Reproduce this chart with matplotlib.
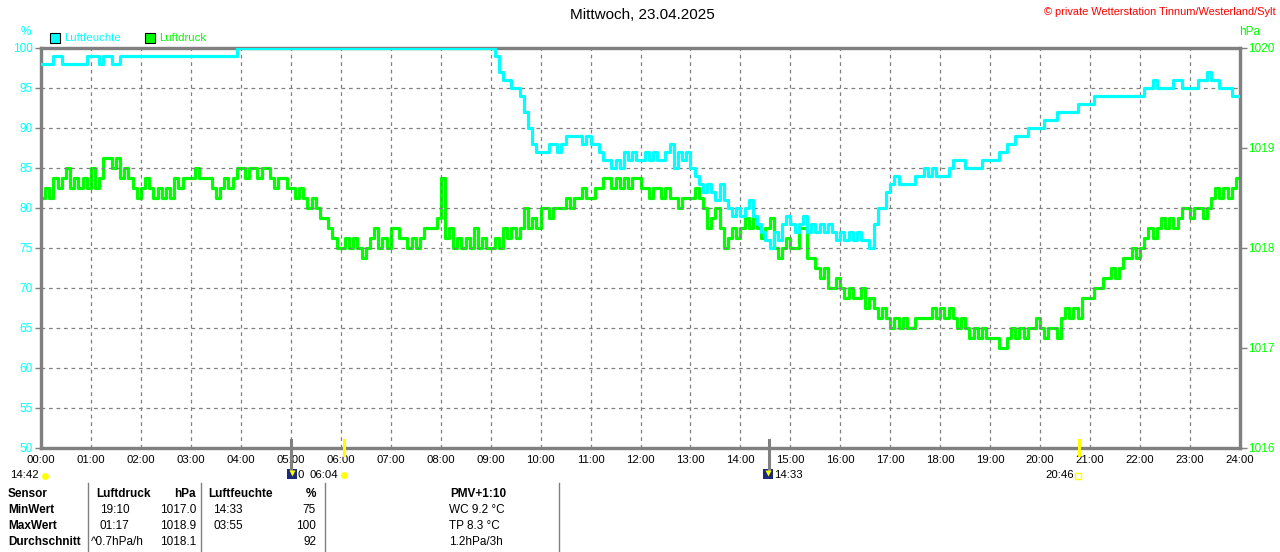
import numpy as np
import matplotlib
matplotlib.use("Agg")
import matplotlib.pyplot as plt

plt.rcParams['font.family'] = ['Liberation Sans', 'DejaVu Sans']

W, H = 1280, 552

# 5-minute samples, one row per hour (00:00 ... 23:55), last value = 24:00
luftfeuchte = [
    98, 98, 98, 99, 99, 98, 98, 98, 98, 98, 98, 99,
    99, 99, 98, 99, 99, 98, 98, 99, 99, 99, 99, 99,
    99, 99, 99, 99, 99, 99, 99, 99, 99, 99, 99, 99,
    99, 99, 99, 99, 99, 99, 99, 99, 99, 99, 99, 100,
    100, 100, 100, 100, 100, 100, 100, 100, 100, 100, 100, 100,
    100, 100, 100, 100, 100, 100, 100, 100, 100, 100, 100, 100,
    100, 100, 100, 100, 100, 100, 100, 100, 100, 100, 100, 100,
    100, 100, 100, 100, 100, 100, 100, 100, 100, 100, 100, 100,
    100, 100, 100, 100, 100, 100, 100, 100, 100, 100, 100, 100,
    100, 99, 97, 96, 96, 95, 95, 94, 92, 90, 88, 87,
    87, 87, 88, 88, 87, 88, 89, 89, 89, 89, 88, 89,
    88, 88, 87, 86, 86, 85, 86, 85, 87, 86, 87, 86,
    86, 87, 86, 87, 86, 86, 87, 88, 85, 87, 86, 87,
    85, 84, 83, 82, 83, 82, 81, 83, 81, 80, 79, 80,
    79, 80, 81, 79, 78, 77, 76, 75, 77, 76, 78, 79,
    78, 77, 78, 79, 77, 78, 77, 78, 77, 78, 77, 76,
    77, 76, 77, 76, 77, 76, 76, 75, 78, 80, 80, 82,
    83, 84, 83, 83, 83, 83, 84, 84, 85, 84, 85, 84,
    84, 84, 85, 86, 86, 86, 85, 85, 85, 85, 86, 86,
    86, 86, 87, 87, 88, 88, 89, 89, 89, 90, 90, 90,
    90, 91, 91, 91, 92, 92, 92, 92, 92, 93, 93, 93,
    93, 94, 94, 94, 94, 94, 94, 94, 94, 94, 94, 94,
    94, 95, 95, 96, 95, 95, 95, 95, 96, 96, 95, 95,
    95, 95, 96, 96, 97, 96, 96, 95, 95, 95, 94, 94,
    94,
]

luftdruck = [
    1018.5, 1018.6, 1018.5, 1018.7, 1018.6, 1018.7, 1018.8, 1018.6, 1018.7, 1018.6, 1018.7, 1018.6,
    1018.8, 1018.6, 1018.7, 1018.9, 1018.9, 1018.8, 1018.9, 1018.7, 1018.8, 1018.7, 1018.6, 1018.5,
    1018.6, 1018.7, 1018.6, 1018.5, 1018.6, 1018.5, 1018.6, 1018.5, 1018.7, 1018.6, 1018.7, 1018.7,
    1018.7, 1018.8, 1018.7, 1018.7, 1018.7, 1018.6, 1018.5, 1018.6, 1018.7, 1018.6, 1018.7, 1018.8,
    1018.8, 1018.7, 1018.8, 1018.8, 1018.7, 1018.8, 1018.8, 1018.7, 1018.6, 1018.7, 1018.7, 1018.6,
    1018.6, 1018.5, 1018.6, 1018.5, 1018.4, 1018.5, 1018.4, 1018.3, 1018.3, 1018.2, 1018.1, 1018.0,
    1018.0, 1018.1, 1018.0, 1018.1, 1018.0, 1017.9, 1018.0, 1018.1, 1018.2, 1018.0, 1018.1, 1018.0,
    1018.2, 1018.2, 1018.1, 1018.1, 1018.0, 1018.1, 1018.0, 1018.1, 1018.2, 1018.2, 1018.2, 1018.3,
    1018.7, 1018.1, 1018.2, 1018.0, 1018.1, 1018.0, 1018.1, 1018.0, 1018.2, 1018.0, 1018.1, 1018.0,
    1018.0, 1018.1, 1018.0, 1018.2, 1018.1, 1018.2, 1018.1, 1018.2, 1018.4, 1018.2, 1018.3, 1018.2,
    1018.4, 1018.4, 1018.3, 1018.4, 1018.4, 1018.4, 1018.5, 1018.4, 1018.5, 1018.5, 1018.6, 1018.5,
    1018.5, 1018.6, 1018.6, 1018.7, 1018.7, 1018.6, 1018.7, 1018.6, 1018.7, 1018.6, 1018.7, 1018.7,
    1018.6, 1018.6, 1018.5, 1018.6, 1018.6, 1018.5, 1018.6, 1018.5, 1018.5, 1018.4, 1018.5, 1018.5,
    1018.5, 1018.6, 1018.5, 1018.4, 1018.2, 1018.3, 1018.4, 1018.2, 1018.0, 1018.1, 1018.2, 1018.1,
    1018.2, 1018.3, 1018.2, 1018.3, 1018.2, 1018.1, 1018.2, 1018.3, 1018.0, 1017.9, 1018.0, 1018.1,
    1018.0, 1018.0, 1018.2, 1018.2, 1017.9, 1017.9, 1017.8, 1017.7, 1017.8, 1017.6, 1017.6, 1017.7,
    1017.6, 1017.5, 1017.6, 1017.5, 1017.5, 1017.6, 1017.4, 1017.5, 1017.4, 1017.3, 1017.4, 1017.3,
    1017.2, 1017.3, 1017.2, 1017.3, 1017.2, 1017.2, 1017.3, 1017.3, 1017.3, 1017.3, 1017.4, 1017.3,
    1017.4, 1017.3, 1017.4, 1017.3, 1017.2, 1017.3, 1017.2, 1017.1, 1017.2, 1017.1, 1017.2, 1017.1,
    1017.1, 1017.1, 1017.0, 1017.0, 1017.1, 1017.2, 1017.1, 1017.2, 1017.1, 1017.2, 1017.2, 1017.3,
    1017.2, 1017.1, 1017.2, 1017.2, 1017.1, 1017.3, 1017.4, 1017.3, 1017.4, 1017.3, 1017.5, 1017.5,
    1017.5, 1017.6, 1017.6, 1017.7, 1017.7, 1017.8, 1017.7, 1017.8, 1017.9, 1017.9, 1018.0, 1017.9,
    1018.0, 1018.1, 1018.2, 1018.1, 1018.2, 1018.3, 1018.2, 1018.3, 1018.2, 1018.3, 1018.4, 1018.4,
    1018.3, 1018.4, 1018.4, 1018.3, 1018.4, 1018.5, 1018.6, 1018.5, 1018.6, 1018.5, 1018.6, 1018.7,
    1018.7,
]

hours = np.arange(len(luftfeuchte)) / 12.0
hour_labels = ['%02d:00' % h for h in range(25)]

# astro events below the time axis (hours)
mond_auf = 5.0
sonne_auf = 6 + 4 / 60
mond_unter = 14 + 33 / 60
sonne_unter = 20 + 46 / 60

table_rows = [
    ['Sensor', 'Luftdruck', 'hPa', 'Luftfeuchte', '%', 'PMV+1:10'],
    ['MinWert', '19:10', '1017.0', '14:33', '75', 'WC 9.2 °C'],
    ['MaxWert', '01:17', '1018.9', '03:55', '100', 'TP 8.3 °C'],
    ['Durchschnitt', '^0.7hPa/h', '1018.1', '', '92', '1.2hPa/3h'],
]

CYAN = '#00ffff'
GREEN = '#00ff00'
GRAY = '#808080'
FS = 8.5


def fx(px):
    return px / W


def fy(py):
    return 1 - py / H


fig = plt.figure(figsize=(W / 100, H / 100), dpi=100)
ax = fig.add_axes([fx(41), fy(448), fx(1240) - fx(41), fy(48) - fy(448)])
ax2 = ax.twinx()

ax.set_xlim(0, 24)
ax.set_ylim(50, 100)
ax2.set_ylim(1016, 1020)

# grid
for h in range(1, 24):
    ax.axvline(h, color=GRAY, lw=0.9, ls=(0, (3, 3)), zorder=1)
for v in range(55, 100, 5):
    ax.axhline(v, color=GRAY, lw=0.9, ls=(0, (3, 3)), zorder=1)

ax2.step(hours, luftdruck, where='post', color=GREEN, lw=2.3, zorder=3)
ax.step(hours, luftfeuchte, where='post', color=CYAN, lw=2.3, zorder=4)
ax.set_zorder(ax2.get_zorder() + 1)
ax.patch.set_visible(False)

for a in (ax, ax2):
    for s in a.spines.values():
        s.set_color(GRAY)
        s.set_linewidth(2.3)

ax.set_xticks(range(25))
ax.set_xticklabels(hour_labels, fontsize=8.2, color='black')
ax.tick_params(axis='x', length=0, pad=5)
ax.set_yticks(range(50, 101, 5))
ax.tick_params(axis='y', colors=GRAY, labelcolor=CYAN, labelsize=FS, length=4, width=1, pad=2)
ax2.set_yticks(range(1016, 1021))
ax2.tick_params(axis='y', colors=GRAY, labelcolor=GREEN, labelsize=FS, length=5, width=1, pad=1)

# title and headers
fig.text(fx(642), fy(15), 'Mittwoch, 23.04.2025', ha='center', va='center', fontsize=11)
fig.text(fx(1276), fy(12), '© private Wetterstation Tinnum/Westerland/Sylt', ha='right', va='center',
         fontsize=7.9, color='red')
fig.text(fx(26), fy(32), '%', ha='center', va='center', fontsize=FS, color=CYAN)
fig.text(fx(1250), fy(32), 'hPa', ha='center', va='center', fontsize=FS, color=GREEN)

# legend
for x0, col, lab in [(50, CYAN, 'Luftfeuchte'), (145, GREEN, 'Luftdruck')]:
    fig.patches.append(plt.Rectangle((fx(x0), fy(43)), fx(10), fy(33) - fy(43), transform=fig.transFigure,
                                     facecolor=col, edgecolor='black', lw=0.8))
    fig.text(fx(x0 + 14), fy(38), lab, ha='left', va='center', fontsize=8.2, color=col)

# astro marks
for h, col, y1 in [(mond_auf, GRAY, 470), (mond_unter, GRAY, 470), (sonne_auf, 'yellow', 455), (sonne_unter, 'yellow', 455)]:
    xp = 41 + 50 * h
    fig.add_artist(plt.Line2D([fx(xp), fx(xp)], [fy(440), fy(y1)], color=col, lw=2.2))


def moon_icon(x0):
    fig.patches.append(plt.Rectangle((fx(x0), fy(479)), fx(10), fy(469) - fy(479), transform=fig.transFigure,
                                     facecolor='#1c2a7a', edgecolor='none'))
    fig.add_artist(plt.Line2D([fx(x0 + 5)], [fy(473)], marker='v', color='yellow', ms=4, mec='none'))


EV_Y = 475
moon_icon(287)
moon_icon(763)
fig.text(fx(10), fy(EV_Y), '14:42', ha='left', va='center', fontsize=8.2)
fig.add_artist(plt.Line2D([fx(45)], [fy(EV_Y + 1)], marker='o', color='yellow', ms=5, mec='none'))
fig.text(fx(298), fy(EV_Y), '0', ha='left', va='center', fontsize=8.2)
fig.text(fx(310), fy(EV_Y), '06:04', ha='left', va='center', fontsize=8.2)
fig.add_artist(plt.Line2D([fx(344)], [fy(EV_Y)], marker='o', color='yellow', ms=5, mec='none'))
fig.text(fx(774), fy(EV_Y), '14:33', ha='left', va='center', fontsize=8.2)
fig.text(fx(1045), fy(EV_Y), '20:46', ha='left', va='center', fontsize=8.2)
fig.add_artist(plt.Line2D([fx(1078)], [fy(EV_Y + 1)], marker='s', color='none', mec='yellow', ms=4, mew=1))

# bottom table
for xs in (88, 201, 325, 559):
    fig.add_artist(plt.Line2D([fx(xs), fx(xs)], [fy(483), fy(552)], color=GRAY, lw=1))
row_y = [494, 510, 526, 542]
for i, row in enumerate(table_rows):
    yy = fy(row_y[i])
    bold = 'bold' if i == 0 else 'normal'
    fig.text(fx(8), yy, row[0], ha='left', va='center', fontsize=FS, weight='bold')
    if i == 0:
        x1 = 96
    elif i == 3:
        x1 = 91
    else:
        x1 = 100
    fig.text(fx(x1), yy, row[1], ha='left', va='center', fontsize=FS, weight=bold)
    fig.text(fx(196), yy, row[2], ha='right', va='center', fontsize=FS, weight=bold)
    fig.text(fx(208 if i == 0 else 213), yy, row[3], ha='left', va='center', fontsize=FS, weight=bold)
    fig.text(fx(316), yy, row[4], ha='right', va='center', fontsize=FS, weight=bold)
    if i == 0:
        fig.text(fx(478), yy, row[5], ha='center', va='center', fontsize=FS, weight='bold')
    else:
        fig.text(fx(449), yy, row[5], ha='left', va='center', fontsize=FS)

fig.savefig('out.png', dpi=100)
